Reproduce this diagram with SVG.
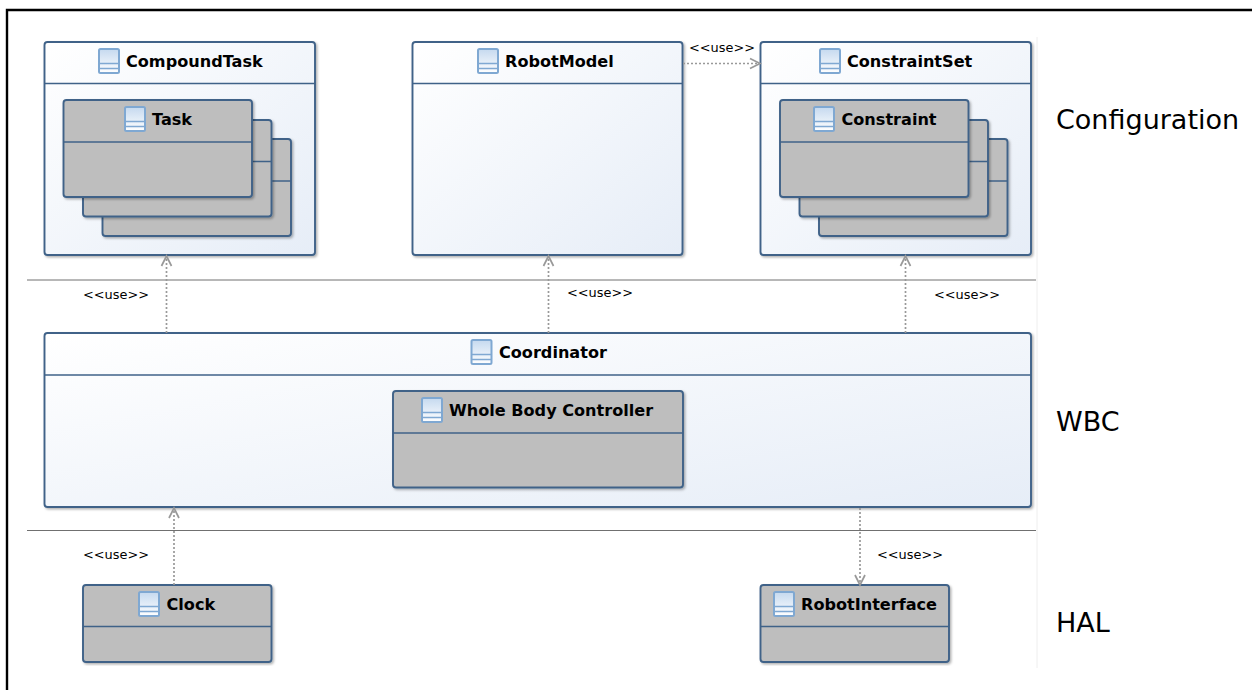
<svg xmlns="http://www.w3.org/2000/svg" xmlns:xlink="http://www.w3.org/1999/xlink" width="1252" height="690" viewBox="0 0 1252 690">
<style>
text{font-family:"DejaVu Sans","Liberation Sans",sans-serif;fill:#000}
.t{font-weight:bold;font-size:16.1px}
.u{font-size:12.9px}
.l{font-size:27px}
.box{stroke:#3f6288;stroke-width:1.9;filter:url(#sh)}
.w{fill:url(#g)}
.k{fill:#bebebe}
.d{stroke:#3f6288;stroke-width:1.3;fill:none}
.sep{stroke:#707070;stroke-width:1;fill:none}
.c{stroke:#999999;stroke-width:1.7;stroke-dasharray:2 2;fill:none}
.a{stroke:#999999;stroke-width:1.7;fill:none}
</style>
<defs>
<linearGradient id="g" x1="0" y1="0" x2="1" y2="1"><stop offset="0" stop-color="#ffffff"/><stop offset="1" stop-color="#e6edf7"/></linearGradient>
<linearGradient id="ig" x1="0" y1="0" x2="0" y2="1"><stop offset="0" stop-color="#c5d9ef"/><stop offset="1" stop-color="#ffffff"/></linearGradient>
<filter id="sh" x="-5%" y="-5%" width="110%" height="110%"><feDropShadow dx="1.5" dy="1.5" stdDeviation="1.2" flood-color="#000" flood-opacity=".3"/></filter>
<g id="i"><rect x="-10" y="-12" width="20" height="24" rx="1.5" fill="url(#ig)" stroke="#7fa8d2" stroke-width="2"/><path d="M-10 2.500H10M-10 7.500H10" stroke="#7fa8d2" stroke-width="1.7" fill="none"/></g>
</defs>
<rect width="1252" height="690" fill="#fff"/>
<path d="M7 690V10H1252" fill="none" stroke="#000" stroke-width="2.4"/>
<path d="M1037 37V668" stroke="#eeeeee" stroke-width="1" fill="none"/>
<g id="separators"><path class="sep" d="M27 280H1036M27 530.500H1036"/></g>

<g id="CompoundTask"><rect class="box w" x="44.500" y="42" width="270.500" height="213" rx="3"/><path class="d" d="M44.500 83.500H315"/><use xlink:href="#i" x="109" y="61"/><text class="t" x="126" y="67">CompoundTask</text></g>
<g id="Task3"><rect class="box k" x="102.500" y="139" width="188.500" height="97" rx="3"/><path class="d" d="M102.500 181H291"/></g>
<g id="Task2"><rect class="box k" x="83" y="120" width="188.500" height="96.500" rx="3"/><path class="d" d="M83 161.500H271.500"/></g>
<g id="Task"><rect class="box k" x="63.500" y="100" width="188.500" height="97" rx="3"/><path class="d" d="M63.500 142H252"/><use xlink:href="#i" x="135" y="119"/><text class="t" x="152" y="125">Task</text></g>

<g id="RobotModel"><rect class="box w" x="412.500" y="42" width="270" height="213" rx="3"/><path class="d" d="M412.500 83.500H682.500"/><use xlink:href="#i" x="488" y="61"/><text class="t" x="505" y="67">RobotModel</text></g>

<g id="ConstraintSet"><rect class="box w" x="760.500" y="42" width="270.500" height="213" rx="3"/><path class="d" d="M760.500 83.500H1031"/><use xlink:href="#i" x="830" y="61"/><text class="t" x="847" y="67">ConstraintSet</text></g>
<g id="Constraint3"><rect class="box k" x="819" y="139" width="188.500" height="97" rx="3"/><path class="d" d="M819 181H1007.500"/></g>
<g id="Constraint2"><rect class="box k" x="799.500" y="120" width="188.500" height="96.500" rx="3"/><path class="d" d="M799.500 161.500H988"/></g>
<g id="Constraint"><rect class="box k" x="780" y="100" width="188.500" height="97" rx="3"/><path class="d" d="M780 142H968.500"/><use xlink:href="#i" x="824" y="119"/><text class="t" x="841.500" y="125">Constraint</text></g>

<g id="Coordinator"><rect class="box w" x="44.500" y="333" width="986.500" height="174" rx="3"/><path class="d" d="M44.500 375H1031"/><use xlink:href="#i" x="481.500" y="352"/><text class="t" x="499" y="358">Coordinator</text></g>
<g id="WholeBodyController"><rect class="box k" x="393" y="391" width="290" height="96.500" rx="3"/><path class="d" d="M393 433H683"/><use xlink:href="#i" x="432" y="410"/><text class="t" x="449" y="416">Whole Body Controller</text></g>

<g id="Clock"><rect class="box k" x="83" y="585" width="188.500" height="77" rx="3"/><path class="d" d="M83 626.500H271.500"/><use xlink:href="#i" x="149" y="604"/><text class="t" x="166.500" y="610">Clock</text></g>
<g id="RobotInterface"><rect class="box k" x="760.500" y="585" width="188.500" height="77" rx="3"/><path class="d" d="M760.500 626.500H949"/><use xlink:href="#i" x="784" y="604"/><text class="t" x="801" y="610">RobotInterface</text></g>

<g id="connectors">
<path class="c" d="M683 63.500H758"/><path class="a" d="M750 58.500L760 63.500L750 68.500"/>
<path class="c" d="M166.500 333V257"/><path class="a" d="M161.500 266L166.500 256L171.500 266"/>
<path class="c" d="M548.500 333V257"/><path class="a" d="M543.500 266L548.500 256L553.500 266"/>
<path class="c" d="M905.500 333V257"/><path class="a" d="M900.500 266L905.500 256L910.500 266"/>
<path class="c" d="M174 585V509"/><path class="a" d="M169 518L174 508L179 518"/>
<path class="c" d="M860 508V583"/><path class="a" d="M855 575L860 585L865 575"/>
</g>
<g id="labels">
<text class="u" x="689" y="52">&lt;&lt;use&gt;&gt;</text>
<text class="u" x="83" y="299">&lt;&lt;use&gt;&gt;</text>
<text class="u" x="567" y="297">&lt;&lt;use&gt;&gt;</text>
<text class="u" x="934" y="299">&lt;&lt;use&gt;&gt;</text>
<text class="u" x="83" y="559">&lt;&lt;use&gt;&gt;</text>
<text class="u" x="877" y="559">&lt;&lt;use&gt;&gt;</text>
<text class="l" x="1056" y="129">Configuration</text>
<text class="l" x="1056" y="431">WBC</text>
<text class="l" x="1056" y="632">HAL</text>
</g>
</svg>
